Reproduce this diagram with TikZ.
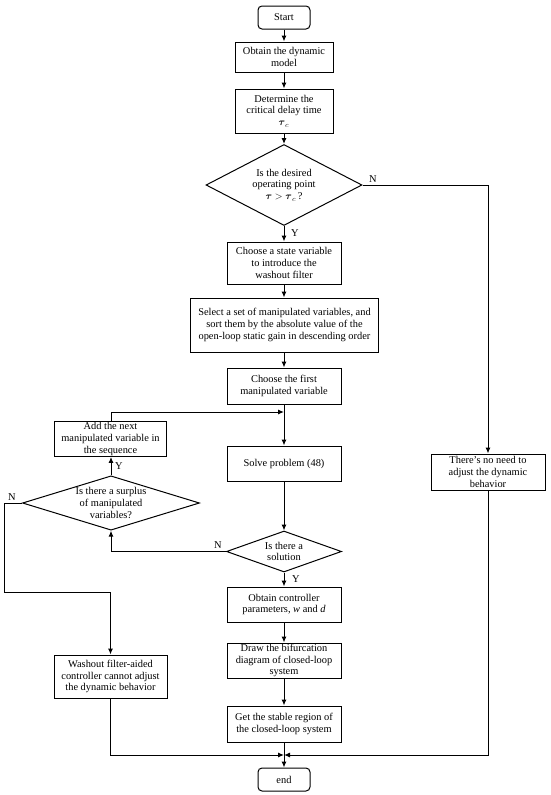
\documentclass[tikz,border=0pt]{standalone}
\usepackage{fontspec}
\usepackage{amsmath}
\setmainfont{Liberation Serif}
\usetikzlibrary{shapes.geometric,arrows.meta}
\begin{document}
\begin{tikzpicture}[x=1pt,y=-1pt,
  every node/.style={font=\fontsize{10.4}{11.7}\selectfont},
  proc/.style={draw,line width=1pt,rectangle,align=center,inner sep=1pt},
  term/.style={proc,rounded corners=4pt},
  decide/.style={draw,line width=1pt,diamond,align=center,inner sep=0pt},
  flow/.style={line width=1pt,-{Latex[length=6pt,width=5pt]}}]
\useasboundingbox (0,0) rectangle (550,795);
\node[term,minimum width=52,minimum height=23] (start) at (284,17.5) {Start};
\node[proc,minimum width=98,minimum height=30] (model) at (284,57) {Obtain the dynamic\\model};
\node[proc,minimum width=98,minimum height=44] (crit) at (284,111) {Determine the\\critical delay time\\$\boldsymbol{\tau}_c$};
\node[decide,aspect=2,minimum width=156,minimum height=81] (dia1) at (284,185) {Is the desired\\operating point\\$\boldsymbol{\tau}>\boldsymbol{\tau}_c$\,?};
\node[proc,minimum width=114,minimum height=42] (state) at (284,263) {Choose a state variable\\to introduce the\\washout filter};
\node[proc,minimum width=188,minimum height=54] (select) at (284.5,325) {Select a set of manipulated variables, and\\sort them by the absolute value of the\\open-loop static gain in descending order};
\node[proc,minimum width=114,minimum height=36] (first) at (284,386) {Choose the first\\manipulated variable};
\node[proc,minimum width=114,minimum height=35] (solve) at (284,463.5) {Solve problem (48)};
\node[decide,aspect=3,minimum width=115,minimum height=41] (dia2) at (284,551.5) {Is there a\\solution};
\node[proc,minimum width=114,minimum height=35] (param) at (284,604.5) {Obtain controller\\parameters, \textit{w} and \textit{d}};
\node[proc,minimum width=114,minimum height=35] (bif) at (284,660.5) {Draw the bifurcation\\diagram of closed-loop\\system};
\node[proc,minimum width=114,minimum height=36] (stable) at (284,724) {Get the stable region of\\the closed-loop system};
\node[term,minimum width=52,minimum height=23] (end) at (284,779.5) {end};
\node[proc,minimum width=114,minimum height=36] (noneed) at (488,472) {There's no need to\\adjust the dynamic\\behavior};
\node[proc,minimum width=112,minimum height=34] (add) at (110.5,439) {Add the next\\manipulated variable in\\the sequence};
\node[decide,aspect=3,minimum width=177,minimum height=54] (dia3) at (111,503) {Is there a surplus\\of manipulated\\variables?};
\node[proc,minimum width=113,minimum height=43] (wash) at (110.5,676.5) {Washout filter-aided\\controller cannot adjust\\the dynamic behavior};
\coordinate (loopin) at (284,412);
\coordinate (join) at (284,755);
\coordinate (nleft) at (4,592);
\draw[flow] (start) -- (model);
\draw[flow] (model) -- (crit);
\draw[flow] (crit) -- (dia1);
\draw[flow] (dia1) -- (state);
\draw[flow] (state) -- (select.north -| state.south);
\draw[flow] (select.south -| first.north) -- (first);
\draw[flow] (first) -- (solve);
\draw[flow] (add.north -| dia3.north) |- (loopin);
\draw[flow] (solve) -- (dia2);
\draw[flow] (dia2) -- (param);
\draw[flow] (param) -- (bif);
\draw[flow] (bif) -- (stable);
\draw[flow] (stable) -- (end);
\draw[flow] (dia1.east) -| (noneed.north);
\draw[flow] (noneed.south) |- (join);
\draw[flow] (dia2.west) -| (dia3.south);
\draw[flow] (dia3.north) -- (dia3.north |- add.south);
\draw[flow] (dia3.west) -| (nleft) -| (wash.north);
\draw[flow] (wash.south) |- (join);
\node (y1) at (295,233) {Y};
\node (n1) at (373,179) {N};
\node (y2) at (296,579) {Y};
\node (n2) at (218,545) {N};
\node (y3) at (119,466) {Y};
\node (n3) at (12,497) {N};
\end{tikzpicture}
\end{document}
